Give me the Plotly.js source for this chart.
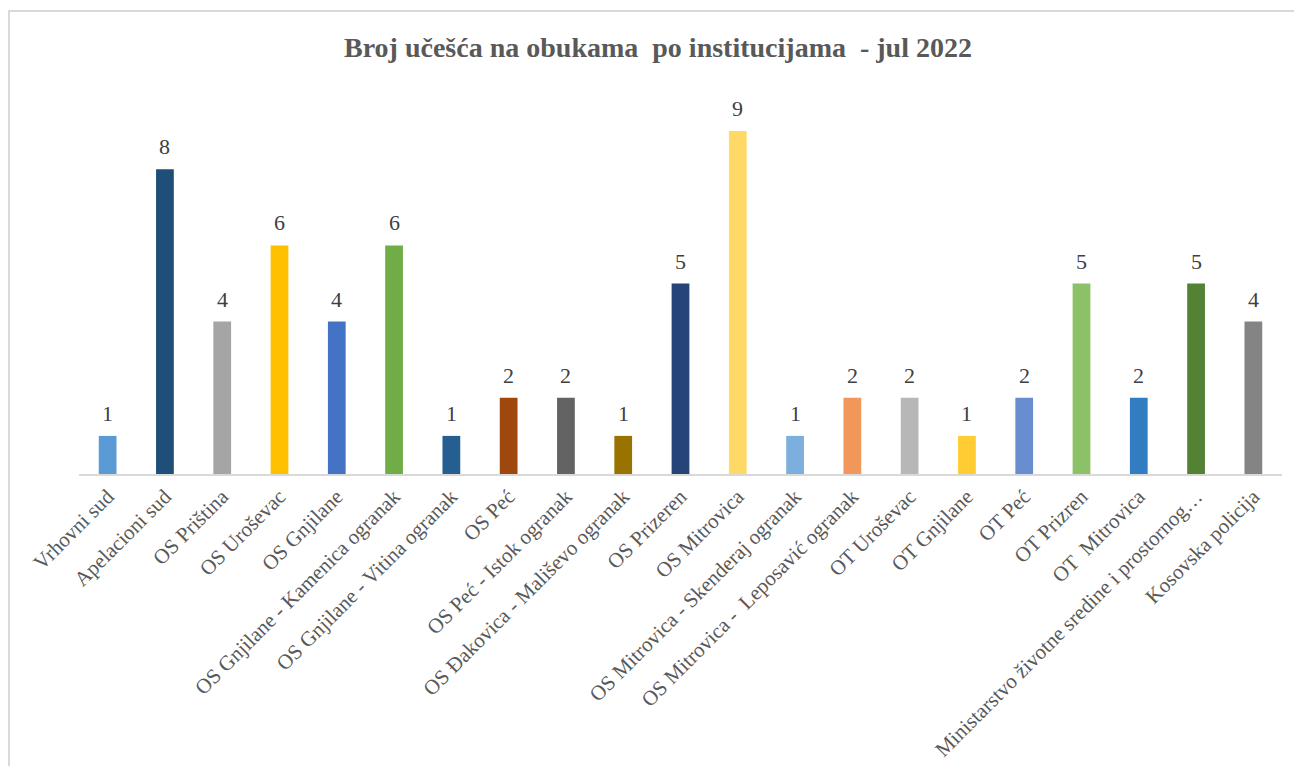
<!DOCTYPE html>
<html>
<head>
<meta charset="utf-8">
<script src="https://cdn.plot.ly/plotly-3.0.1.min.js"></script>
<style>
html,body{margin:0;padding:0;background:#fff;}
#wrap{position:relative;width:1294px;height:766px;}
#chart{position:absolute;left:0;top:0;width:1294px;height:766px;}
#frame{position:absolute;left:8px;top:10px;width:1300px;height:800px;border-left:2px solid #D9D9D9;border-top:2px solid #D9D9D9;pointer-events:none;}
</style>
</head>
<body>
<div id="wrap"><div id="chart"></div><div id="frame"></div></div>
<script>
const categories = [
  "Vrhovni sud", "Apelacioni sud", "OS Priština", "OS Uroševac", "OS Gnjilane",
  "OS Gnjilane - Kamenica ogranak", "OS Gnjilane - Vitina ogranak", "OS Peć",
  "OS Peć - Istok ogranak", "OS Đakovica - Mališevo ogranak", "OS Prizeren",
  "OS Mitrovica", "OS Mitrovica - Skenderaj ogranak", "OS Mitrovica -  Leposavić ogranak",
  "OT Uroševac", "OT Gnjilane", "OT Peć", "OT Prizren", "OT  Mitrovica",
  "Ministarstvo životne sredine i prostornog…", "Kosovska policija"
];
const values = [1, 8, 4, 6, 4, 6, 1, 2, 2, 1, 5, 9, 1, 2, 2, 1, 2, 5, 2, 5, 4];
const barColors = [
  "#5B9BD5", "#1F4E79", "#A5A5A5", "#FFC000", "#4472C4", "#70AD47", "#255E91",
  "#9E480E", "#636363", "#997300", "#264478", "#FFD966", "#7CAFDD", "#F1975A",
  "#B7B7B7", "#FFCD33", "#698ED0", "#8CC168", "#327DC2", "#548235", "#848484"
];
const titleText = "Broj učešća na obukama  po institucijama  - jul 2022";

const serif = "'Liberation Serif', 'Times New Roman', serif";

const trace = {
  type: "bar",
  x: categories,
  y: values,
  marker: {color: barColors, line: {width: 0}},
  hoverinfo: "x+y"
};

const annotations = categories.map((c, i) => ({
  x: c, y: values[i], xref: "x", yref: "y",
  text: String(values[i]), showarrow: false,
  yanchor: "bottom", yshift: 8,
  font: {family: serif, size: 22, color: "#404040"}
}));

const layout = {
  width: 1294, height: 766,
  margin: {l: 79, r: 12, t: 93, b: 292},
  paper_bgcolor: "#fff", plot_bgcolor: "#fff",
  bargap: 0.69,
  showlegend: false,
  title: {
    text: titleText, x: 0.5085, xref: "container", y: 0.938, yanchor: "middle",
    font: {family: serif, size: 28, color: "#595959", weight: "bold"}
  },
  xaxis: {
    type: "category",
    tickangle: -45,
    showline: true, linecolor: "#D9D9D9", linewidth: 2,
    showgrid: false, ticks: "", automargin: false,
    tickfont: {family: serif, size: 21, color: "#595959"}
  },
  yaxis: {
    range: [0, 10], visible: false, showgrid: false, zeroline: false, fixedrange: true
  },
  annotations: annotations
};

Plotly.newPlot("chart", [trace], layout, {displayModeBar: false, staticPlot: true});
</script>
</body>
</html>
